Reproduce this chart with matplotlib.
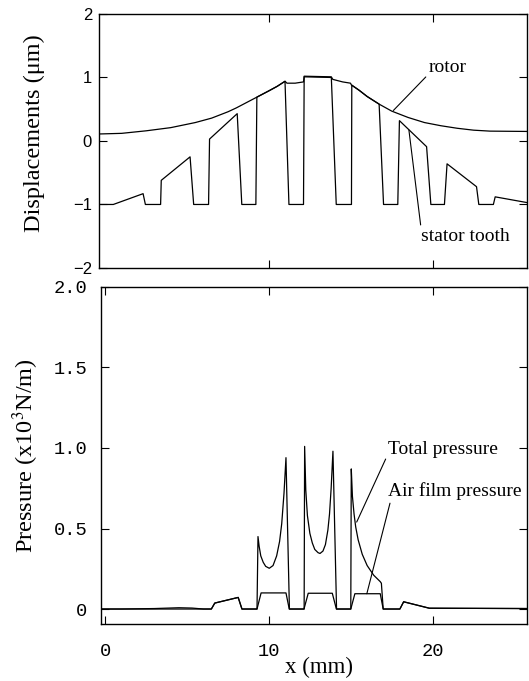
import numpy as np
import matplotlib
matplotlib.use('Agg')
import matplotlib.pyplot as plt

plt.rcParams['mathtext.fontset'] = 'stix'

# ---- displacement data (x in mm, displacement in um)
rotor_x = [-0.38, 1.0, 2.5, 4.0, 5.5, 6.5, 7.5, 8.0, 9.26, 10.0, 10.5, 10.98, 11.1,
           11.6, 12.11, 12.15, 13.81, 13.9, 14.5, 14.98, 15.04, 15.5, 16.0, 16.73,
           17.5, 18.5, 19.5, 20.5, 21.5, 22.5, 23.5, 25.76]
rotor_y = [0.11, 0.12, 0.16, 0.21, 0.29, 0.36, 0.46, 0.52, 0.69, 0.79, 0.86, 0.94, 0.91,
           0.91, 0.93, 1.02, 1.01, 0.97, 0.93, 0.91, 0.88, 0.80, 0.70, 0.58,
           0.47, 0.37, 0.29, 0.24, 0.20, 0.17, 0.155, 0.15]

stator_x = [-0.38, 0.49, 2.31, 2.45, 3.38, 3.42, 5.18, 5.40, 6.31, 6.37, 8.06, 8.34,
            9.20, 9.26, 10.0, 10.5, 10.98, 11.22, 12.11, 12.15, 13.81, 14.11, 15.04,
            15.06, 15.5, 16.0, 16.73, 17.00, 17.87, 17.97, 19.63, 19.89, 20.72, 20.88,
            22.68, 22.82, 23.71, 23.82, 25.76]
stator_y = [-1.0, -1.0, -0.83, -1.0, -1.0, -0.62, -0.25, -1.0, -1.0, 0.03, 0.43, -1.0,
            -1.0, 0.69, 0.79, 0.86, 0.94, -1.0, -1.0, 1.01, 1.0, -1.0, -1.0,
            0.88, 0.80, 0.70, 0.58, -1.0, -1.0, 0.32, -0.09, -1.0, -1.0, -0.36,
            -0.72, -1.0, -1.0, -0.88, -0.97]

# ---- pressure data (x in mm, pressure in 10^3 N/m)
total_x = [-0.26, 1.0, 3.0, 4.5, 5.3, 6.0, 6.48, 6.69, 8.12, 8.35, 9.27, 9.33, 9.4, 9.5,
           9.65, 9.8, 10.02, 10.25, 10.47, 10.65, 10.78, 10.92, 11.04, 11.25,
           12.15, 12.18, 12.25, 12.35, 12.5, 12.65, 12.8, 13.0, 13.12, 13.3, 13.45, 13.6,
           13.7, 13.8, 13.91, 14.13,
           15.0, 15.03, 15.1, 15.2, 15.3, 15.45, 15.7, 16.0, 16.4, 16.8, 16.87, 16.98,
           18.0, 18.23, 19.8, 25.76]
total_y = [0.0, 0.0, 0.003, 0.008, 0.006, 0.0, 0.0, 0.037, 0.072, 0.0, 0.0, 0.45, 0.39, 0.33,
           0.29, 0.265, 0.253, 0.27, 0.33, 0.42, 0.53, 0.72, 0.94, 0.0,
           0.0, 1.01, 0.74, 0.58, 0.47, 0.41, 0.37, 0.35, 0.345, 0.36, 0.40, 0.49,
           0.59, 0.75, 0.98, 0.0,
           0.0, 0.87, 0.70, 0.59, 0.51, 0.43, 0.34, 0.27, 0.21, 0.17, 0.16, 0.0,
           0.0, 0.045, 0.005, 0.003]

air_x = [-0.26, 6.48, 6.69, 8.12, 8.35, 9.27, 9.52, 11.04, 11.24, 12.14, 12.4, 13.87,
         14.12, 15.0, 15.25, 16.8, 16.98, 18.0, 18.23, 19.8, 25.76]
air_y = [0.0, 0.0, 0.037, 0.072, 0.0, 0.0, 0.10, 0.10, 0.0, 0.0, 0.098, 0.098,
         0.0, 0.0, 0.095, 0.095, 0.0, 0.0, 0.045, 0.005, 0.003]

serif = 'Liberation Serif'
lw = 0.9

fig = plt.figure(figsize=(5.29, 6.81), dpi=100)

# top panel
ax1 = fig.add_axes([0.1871, 0.6065, 0.809, 0.373])
ax1.plot(rotor_x, rotor_y, color='black', lw=lw)
ax1.plot(stator_x, stator_y, color='black', lw=lw)
ax1.set_xlim(-0.385, 25.76)
ax1.set_ylim(-2, 2)
ax1.set_yticks([-2, -1, 0, 1, 2])
ax1.set_yticklabels(['\u22122', '\u22121', '0', '1', '2'], family='Liberation Sans', fontsize=12)
ax1.set_xticks([10, 20])
ax1.set_xticklabels([])
ax1.tick_params(direction='in', length=6, width=0.8, top=True, right=True, pad=5)
ax1.set_ylabel('Displacements (\u03bcm)', family=serif, fontsize=17.5)
ax1.yaxis.set_label_coords(-0.125, 0.53)

ax1.annotate('rotor', xy=(17.6, 0.48), xytext=(19.75, 1.16), family=serif, fontsize=14,
             va='center', ha='left',
             arrowprops=dict(arrowstyle='-', color='black', lw=0.8, shrinkA=0, shrinkB=0,
                             relpos=(0, 0.1)))
ax1.annotate('stator tooth', xy=(18.55, 0.17), xytext=(19.3, -1.5), family=serif, fontsize=14,
             va='center', ha='left',
             arrowprops=dict(arrowstyle='-', color='black', lw=0.8, shrinkA=0, shrinkB=0,
                             relpos=(0.0, 0.9)))

# bottom panel
ax2 = fig.add_axes([0.191, 0.0837, 0.805, 0.4949])
ax2.plot(total_x, total_y, color='black', lw=lw)
ax2.plot(air_x, air_y, color='black', lw=lw)
ax2.set_xlim(-0.26, 25.76)
ax2.set_ylim(-0.093, 2.0)
ax2.set_yticks([0, 0.5, 1.0, 1.5, 2.0])
ax2.set_yticklabels(['0', '0.5', '1.0', '1.5', '2.0'], family='Liberation Mono', fontsize=13.5)
ax2.set_xticks([0, 10, 20])
ax2.set_xticklabels(['0', '10', '20'], family='Liberation Mono', fontsize=13.5)
ax2.tick_params(direction='in', length=6, width=0.8, top=True, right=True)
ax2.tick_params(axis='y', pad=10)
ax2.tick_params(axis='x', pad=14)
ax2.set_ylabel('Pressure (x10$^3$N/m)', family=serif, fontsize=17.5)
ax2.yaxis.set_label_coords(-0.14, 0.5)
fig.text(319 / 529, 0.004, 'x (mm)', family=serif, fontsize=16.5, ha='center', va='bottom')

ax2.annotate('Total pressure', xy=(15.36, 0.54), xytext=(17.3, 0.99), family=serif, fontsize=14,
             va='center', ha='left',
             arrowprops=dict(arrowstyle='-', color='black', lw=0.8, shrinkA=0, shrinkB=0,
                             relpos=(0, 0.3)))
ax2.annotate('Air film pressure', xy=(15.98, 0.095), xytext=(17.25, 0.73), family=serif,
             fontsize=14, va='center', ha='left',
             arrowprops=dict(arrowstyle='-', color='black', lw=0.8, shrinkA=0, shrinkB=0,
                             relpos=(0.03, 0.2)))

for ax in (ax1, ax2):
    for s in ax.spines.values():
        s.set_linewidth(1.0)

fig.savefig('out.png', dpi=100)
